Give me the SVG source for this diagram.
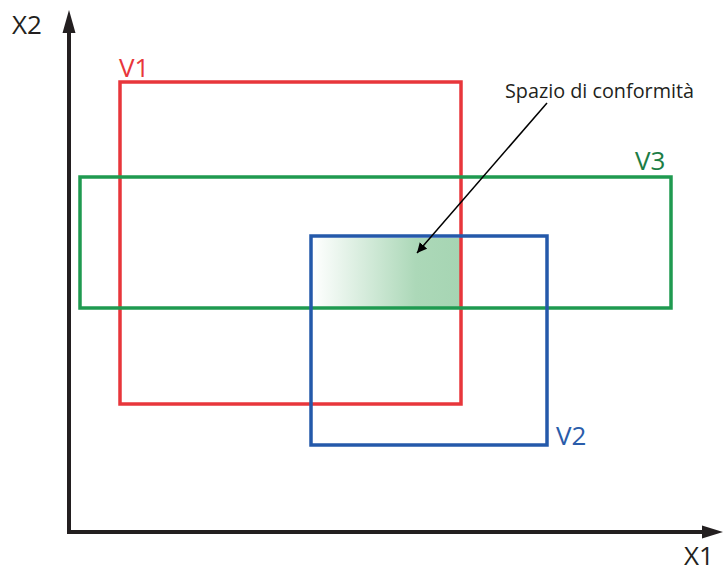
<svg xmlns="http://www.w3.org/2000/svg" width="723" height="572" viewBox="0 0 723 572">
<style>
  .lbl { font-family: "Open Sans", "Noto Sans", sans-serif; font-size: 26px; }
  .box { fill: none; stroke-width: 3.5; }
  .axis { stroke: #231f20; stroke-width: 4; fill: none; }
</style>
<defs>
  <linearGradient id="g" x1="0" y1="0" x2="1" y2="0">
    <stop offset="0" stop-color="#ffffff"/>
    <stop offset="0.7" stop-color="#acd8b8"/>
    <stop offset="1" stop-color="#a6d5b3"/>
  </linearGradient>
  <marker id="ah" viewBox="0 0 10 10" refX="10" refY="5" markerWidth="10" markerHeight="10" markerUnits="userSpaceOnUse" orient="auto">
    <path d="M0,0 L10,5 L0,10 z" fill="#000"/>
  </marker>
</defs>
<g id="region">
  <rect x="313" y="238" width="147" height="69" fill="url(#g)"/>
</g>
<g id="axes">
  <path class="axis" d="M69,534 V30"/>
  <path d="M69,10 L62.5,33 L75.5,33 z" fill="#231f20"/>
  <path class="axis" d="M67,532 H705"/>
  <path d="M723,532 L702,525.5 L702,538.5 z" fill="#231f20"/>
  <text class="lbl" x="12" y="34" font-size="27" fill="#231f20">X2</text>
  <text class="lbl" x="684" y="565" font-size="25" fill="#231f20">X1</text>
</g>
<g id="V1">
  <rect class="box" x="120" y="82" width="341" height="322" stroke="#e8363b"/>
  <text class="lbl" x="119" y="77" fill="#e8363b">V1</text>
</g>
<g id="V3">
  <rect class="box" x="80" y="177" width="591" height="131" stroke="#1f9a50"/>
  <text class="lbl" x="635" y="170" fill="#1c7d45">V3</text>
</g>
<g id="V2">
  <rect class="box" x="311" y="236" width="236" height="209" stroke="#2459aa"/>
  <text class="lbl" x="556" y="445" fill="#2a5caa">V2</text>
</g>
<g id="connectors">
  <line x1="547" y1="103" x2="417" y2="253" stroke="#000" stroke-width="1.5" marker-end="url(#ah)"/>
  <text x="505" y="98" font-family="'Open Sans', 'Noto Sans', sans-serif" font-size="20.5" fill="#231f20" textLength="189" lengthAdjust="spacingAndGlyphs">Spazio di conformità</text>
</g>
</svg>
